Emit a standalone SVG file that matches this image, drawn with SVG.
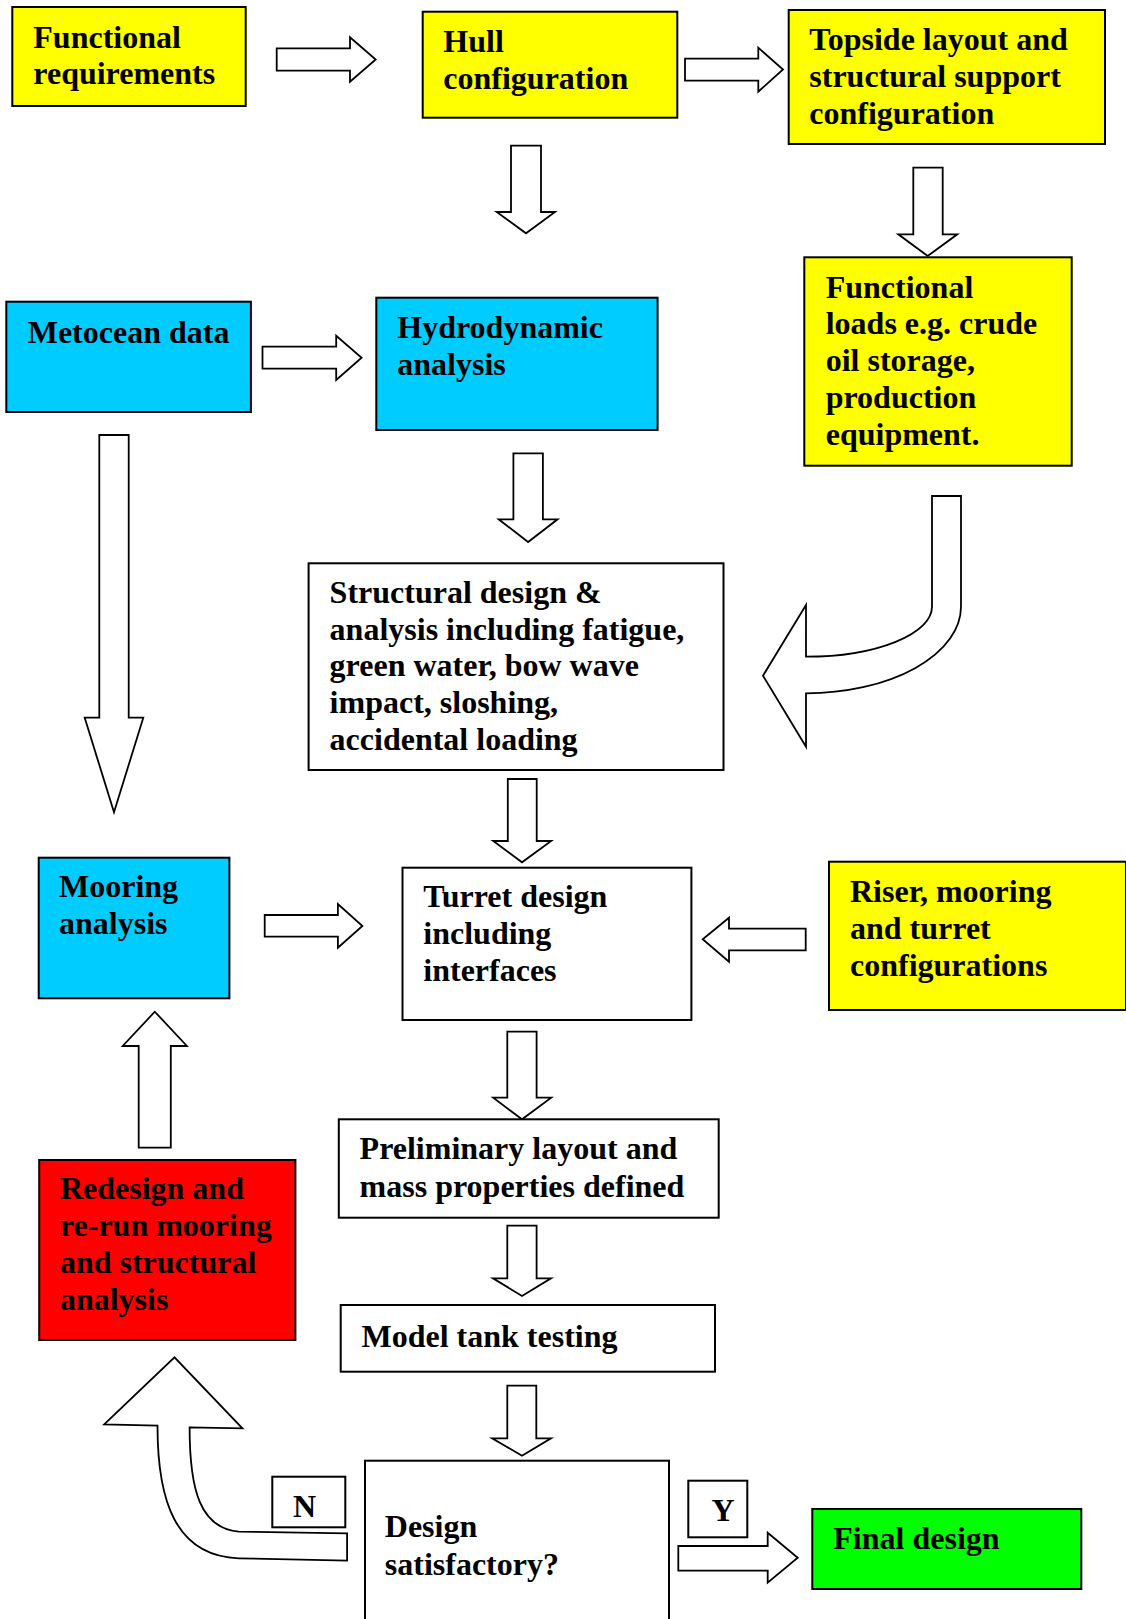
<svg xmlns="http://www.w3.org/2000/svg" width="1126" height="1619" viewBox="0 0 1126 1619">
<style>
.box{stroke:#000;stroke-width:2}
.y{fill:#ffff00}.c{fill:#00ccff}.r{fill:#ff0000}.g{fill:#00ff00}.w{fill:#fff}
.t{font-family:"Liberation Serif","Times New Roman",serif;font-weight:bold;font-size:32px;fill:#000}
.a{fill:#fff;stroke:#000;stroke-width:1.8;stroke-linejoin:miter}
</style>
<rect width="1126" height="1619" fill="#fff"/>
<g id="connectors">
<polygon class="a" points="276.7,48.3 350,48.3 350,37.3 375.7,59.5 350,81.7 350,70.7 276.7,70.7"/>
<polygon class="a" points="685,58.7 758.3,58.7 758.3,47.7 783,69.5 758.3,91.7 758.3,80.7 685,80.7"/>
<polygon class="a" points="511,145.7 541,145.7 541,212 555,212 526,233.3 496.7,212 511,212"/>
<polygon class="a" points="913.3,167.7 942.7,167.7 942.7,234.3 957.3,234.3 927.7,256 898.3,234.3 913.3,234.3"/>
<polygon class="a" points="262.5,346.7 336.2,346.7 336.2,335.7 361.6,357.7 336.2,380 336.2,368.7 262.5,368.7"/>
<polygon class="a" points="513.4,453.3 542.9,453.3 542.9,519.3 557.6,519.3 528.1,542 498.7,519.3 513.4,519.3"/>
<polygon class="a" points="99.3,435 128.7,435 128.7,717.7 143.3,717.7 114,812.3 84.7,717.7 99.3,717.7"/>
<path class="a" d="M932,496 H961 V606.7 A155,86.7 0 0 1 806,693.3 V746.7 L763,675.7 L806,605 V656.7 A126,50 0 0 0 932,606.7 Z"/>
<polygon class="a" points="507.8,779 536.7,779 536.7,841 551.2,841 522,862.3 493.2,841 507.8,841"/>
<polygon class="a" points="264.7,915 337.9,915 337.9,904 362.4,926 337.9,947.7 337.9,936.7 264.7,936.7"/>
<polygon class="a" points="805.7,928.7 729,928.7 729,917.7 702.7,939.3 729,961.7 729,950.3 805.7,950.3"/>
<polygon class="a" points="507.3,1031.7 536.6,1031.7 536.6,1097.7 551.2,1097.7 522,1119.3 493.2,1097.7 507.3,1097.7"/>
<polygon class="a" points="138.7,1147.7 170.8,1147.7 170.8,1046 186.9,1046 154.8,1011.7 122.7,1046 138.7,1046"/>
<polygon class="a" points="507.3,1225.7 536.6,1225.7 536.6,1278.3 551,1278.3 522,1296 493,1278.3 507.3,1278.3"/>
<polygon class="a" points="507.3,1385.7 536.3,1385.7 536.3,1438.3 551,1438.3 522,1455.7 492.2,1438.3 507.3,1438.3"/>
<path class="a" d="M347.1,1533.3 L238.7,1531.7 C200,1528 189.6,1490 189.6,1427.3 L242.4,1428.3 L174.5,1357.3 L104.2,1424.3 L157.5,1425.7 C157.5,1500 175,1556 238.7,1558.3 L347.1,1560.7 Z"/>
<polygon class="a" points="678.3,1546 767.7,1546 767.7,1532.7 797.7,1557.7 767.7,1582.7 767.7,1570.7 678.3,1570.7"/>
</g>
<g id="functional-requirements"><rect class="box y" x="12.3" y="7" width="233.4" height="99"/><text class="t" x="33.3" y="47.7">Functional</text><text class="t" x="33.3" y="84.3">requirements</text></g>
<g id="hull-configuration"><rect class="box y" x="422.7" y="11.7" width="254.6" height="106"/><text class="t" x="443.3" y="51.7">Hull</text><text class="t" x="443.3" y="89.3">configuration</text></g>
<g id="topside"><rect class="box y" x="788.7" y="10" width="316.3" height="134"/><text class="t" x="809.3" y="50">Topside layout and</text><text class="t" x="809.3" y="87.3">structural support</text><text class="t" x="809.3" y="124">configuration</text></g>
<g id="functional-loads"><rect class="box y" x="804.3" y="257.3" width="267.4" height="208.4"/><text class="t" x="825.7" y="297.5">Functional</text><text class="t" x="825.7" y="334.3">loads e.g. crude</text><text class="t" x="825.7" y="371.1">oil storage,</text><text class="t" x="825.7" y="407.9">production</text><text class="t" x="825.7" y="444.7">equipment.</text></g>
<g id="metocean-data"><rect class="box c" x="6.3" y="301.7" width="244.6" height="110.3"/><text class="t" x="27.7" y="342.7">Metocean data</text></g>
<g id="hydrodynamic-analysis"><rect class="box c" x="376.3" y="297.7" width="281.3" height="132.3"/><text class="t" x="397.3" y="337.5">Hydrodynamic</text><text class="t" x="397.3" y="374.8">analysis</text></g>
<g id="structural-design"><rect class="box w" x="308.6" y="563.3" width="414.9" height="206.7"/><text class="t" x="329.6" y="602.7">Structural design &amp;</text><text class="t" x="329.6" y="639.5">analysis including fatigue,</text><text class="t" x="329.6" y="676.3">green water, bow wave</text><text class="t" x="329.6" y="713.1">impact, sloshing,</text><text class="t" x="329.6" y="749.9">accidental loading</text></g>
<g id="mooring-analysis"><rect class="box c" x="38.7" y="857.7" width="190.7" height="140.6"/><text class="t" x="59" y="896.7">Mooring</text><text class="t" x="59" y="934">analysis</text></g>
<g id="turret-design"><rect class="box w" x="402.5" y="867.7" width="288.9" height="152.3"/><text class="t" x="423.3" y="907.3">Turret design</text><text class="t" x="423.3" y="944.3">including</text><text class="t" x="423.3" y="981.3">interfaces</text></g>
<g id="riser-mooring-turret"><rect class="box y" x="829" y="861.7" width="297" height="148.3"/><text class="t" x="850" y="901.7">Riser, mooring</text><text class="t" x="850" y="938.7">and turret</text><text class="t" x="850" y="975.7">configurations</text></g>
<g id="preliminary-layout"><rect class="box w" x="338.8" y="1119.3" width="379.9" height="98.4"/><text class="t" x="359.6" y="1159.3">Preliminary layout and</text><text class="t" x="359.6" y="1196.5">mass properties defined</text></g>
<g id="redesign"><rect class="box r" x="39.2" y="1160" width="256.2" height="180"/><text class="t" x="59.9" y="1199">Redesign and</text><text class="t" x="59.9" y="1236">re-run mooring</text><text class="t" x="59.9" y="1273">and structural</text><text class="t" x="59.9" y="1310.3">analysis</text></g>
<g id="model-tank-testing"><rect class="box w" x="340.7" y="1305" width="374.3" height="66.7"/><text class="t" x="361.5" y="1346.7">Model tank testing</text></g>
<g id="design-satisfactory"><rect class="box w" x="365" y="1460.7" width="304" height="170"/><text class="t" x="384.8" y="1536.7">Design</text><text class="t" x="384.8" y="1574.5">satisfactory?</text></g>
<g id="label-n"><rect class="box w" x="272.3" y="1476.7" width="73" height="50.6"/><text class="t" x="293" y="1516.7">N</text></g>
<g id="label-y"><rect class="box w" x="688.3" y="1480.7" width="59" height="56.6"/><text class="t" x="711.5" y="1521">Y</text></g>
<g id="final-design"><rect class="box g" x="812.3" y="1509" width="269" height="80"/><text class="t" x="833.3" y="1549.3">Final design</text></g>
</svg>
